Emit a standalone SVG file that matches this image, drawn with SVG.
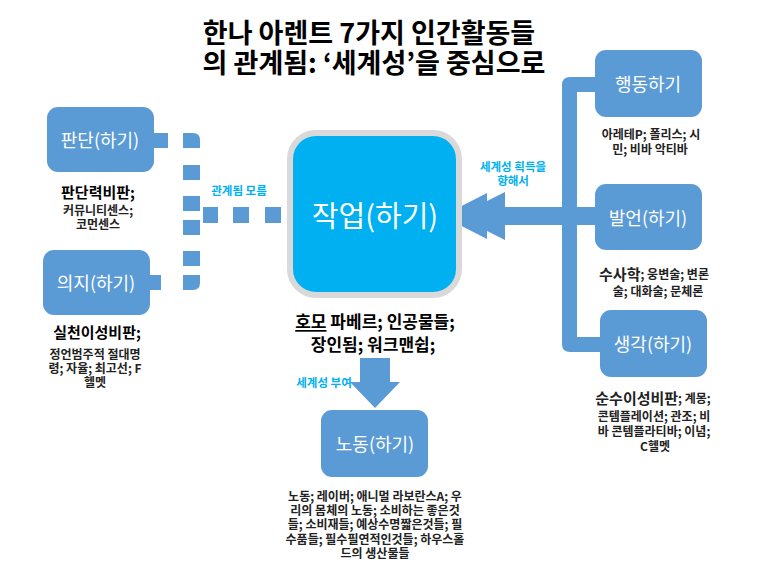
<svg xmlns="http://www.w3.org/2000/svg" width="768" height="576" viewBox="0 0 768 576">
<style>
text{font-family:"Noto Sans CJK KR","Noto Sans",sans-serif;dominant-baseline:central;text-anchor:middle}
.title{font-size:27px;font-weight:700;fill:#000}
.box{fill:#5b9bd5}
.blabel{font-size:18px;fill:#fff}
.big{font-size:15px;font-weight:700;fill:#000}
.small{font-size:12px;font-weight:700;fill:#222}
.mid{font-size:17px;font-weight:700;fill:#000}
.cyan{font-size:11.5px;font-weight:700;fill:#00b0f0}
.conn{fill:#5b9bd5}
</style>
<rect width="768" height="576" fill="#fff"/>
<g id="title">
<text class="title" x="369" y="31">한나 아렌트 7가지 인간활동들</text>
<text class="title" x="374" y="61">의 관계됨: ‘세계성’을 중심으로</text>
</g>
<g id="connectors">
<path class="conn" d="M595,77 H570 Q562,77 562,85 V344 Q562,352 570,352 H600 V337 H577 V92 H595 Z"/>
<path class="conn" d="M442,216 L487,193 L487,201 L505,192 L505,207 L595,207 L595,225 L505,225 L505,240 L487,231 L487,239 Z"/>
<path class="conn" d="M360,358 H390 V382 H400 L375,408 L350,382 H360 Z"/>
<rect class="conn" x="154" y="133" width="14" height="15"/>
<path class="conn" d="M183,133 H193 Q200,133 200,140 V148 H183 Z"/>
<rect class="conn" x="183" y="165" width="17" height="15"/>
<rect class="conn" x="183" y="196" width="17" height="15"/>
<rect class="conn" x="183" y="220" width="17" height="15"/>
<rect class="conn" x="183" y="251" width="17" height="15"/>
<path class="conn" d="M183,275 H200 V283 Q200,290 193,290 H183 Z"/>
<rect class="conn" x="150" y="275" width="11" height="15"/>
<rect class="conn" x="203" y="207" width="15" height="16"/>
<rect class="conn" x="233" y="207" width="16" height="16"/>
<rect class="conn" x="265" y="207" width="16" height="16"/>
<text class="cyan" x="239" y="190">관계됨 모름</text>
<text class="cyan" x="513" y="166">세계성 획득을</text>
<text class="cyan" x="513" y="180">향해서</text>
<text class="cyan" x="324" y="382">세계성 부여</text>
</g>
<g id="work">
<rect x="290" y="133" width="169" height="162" rx="26" fill="#00b0f0" stroke="#d9d9d9" stroke-width="6"/>
<text x="375" y="214" font-size="29" fill="#fff">작업(하기)</text>
<text class="mid" x="375" y="320"><tspan text-decoration="underline">호모</tspan> 파베르; 인공물들;</text>
<text class="mid" x="373" y="343">장인됨; 워크맨쉽;</text>
</g>
<g id="judgment">
<rect class="box" x="47" y="107" width="107" height="65" rx="11"/>
<text class="blabel" x="100" y="139">판단(하기)</text>
<text class="big" x="98" y="191">판단력비판;</text>
<text class="small" x="98" y="209">커뮤니티센스;</text>
<text class="small" x="98" y="223">코먼센스</text>
</g>
<g id="will">
<rect class="box" x="43" y="250" width="107" height="65" rx="11"/>
<text class="blabel" x="96" y="282">의지(하기)</text>
<text class="big" x="97" y="331">실천이성비판;</text>
<text class="small" x="95" y="353">정언범주적 절대명</text>
<text class="small" x="95" y="367">령; 자율; 최고선; F</text>
<text class="small" x="95" y="381">헬멧</text>
</g>
<g id="action">
<rect class="box" x="595" y="50" width="107" height="67" rx="11"/>
<text class="blabel" x="648" y="83">행동하기</text>
<text class="small" x="651" y="133">아레테P; 폴리스; 시</text>
<text class="small" x="650" y="148">민; 비바 악티바</text>
</g>
<g id="speech">
<rect class="box" x="595" y="184" width="107" height="66" rx="11"/>
<text class="blabel" x="648" y="217">발언(하기)</text>
<text class="small" x="654" y="273"><tspan font-size="15">수사학</tspan>; 웅변술; 변론</text>
<text class="small" x="658" y="290">술; 대화술; 문체론</text>
</g>
<g id="thinking">
<rect class="box" x="600" y="310" width="107" height="67" rx="11"/>
<text class="blabel" x="653" y="343">생각(하기)</text>
<text class="small" x="653" y="397"><tspan font-size="15">순수이성비판</tspan>; 계몽;</text>
<text class="small" x="654" y="415">콘템플레이션; 관조; 비</text>
<text class="small" x="654" y="430">바 콘템플라티바; 이념;</text>
<text class="small" x="655" y="445">C헬멧</text>
</g>
<g id="labor">
<rect class="box" x="321" y="410" width="107" height="67" rx="11"/>
<text class="blabel" x="375" y="443">노동(하기)</text>
<text class="small" x="375" y="495">노동; 레이버; 애니멀 라보란스A; 우</text>
<text class="small" x="375" y="509">리의 몸체의 노동; 소비하는 좋은것</text>
<text class="small" x="375" y="523">들; 소비재들; 예상수명짧은것들; 필</text>
<text class="small" x="375" y="538">수품들; 필수필연적인것들; 하우스홀</text>
<text class="small" x="375" y="552">드의 생산물들</text>
</g>
</svg>
